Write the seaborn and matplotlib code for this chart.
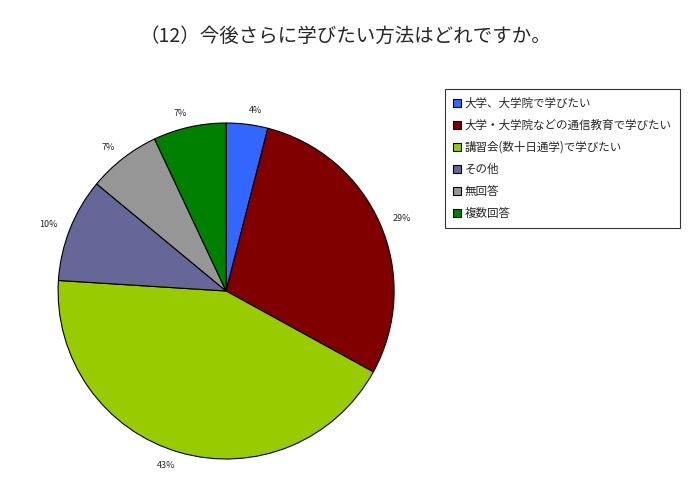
import matplotlib
matplotlib.use("Agg")
import matplotlib.pyplot as plt
import seaborn as sns

# Survey answers (clockwise from 12 o'clock)
categories = ["大学、大学院で学びたい", "大学・大学院などの通信教育で学びたい",
              "講習会(数十日通学)で学びたい", "その他", "無回答", "複数回答"]
shares = [4, 29, 43, 10, 7, 7]
colors = ["#3366FF", "#800000", "#99CC00", "#666699", "#969696", "#008000"]
title = "（12）今後さらに学びたい方法はどれですか。"

sns.set_style("white")
plt.rcParams["font.family"] = ["Noto Sans CJK JP", "DejaVu Sans"]

fig = plt.figure(figsize=(7, 5), dpi=100)
ax = fig.add_axes([0.323 - 0.24, 0.418 - 0.336, 0.48, 0.672])

wedges, texts = ax.pie(shares, colors=colors, startangle=90, counterclock=False,
                       labels=[f"{v}%" for v in shares], labeldistance=1.08,
                       wedgeprops={"edgecolor": "black", "linewidth": 0.8},
                       textprops={"fontsize": 6.5})
ax.set_aspect("equal")
ax.set_xlim(-1, 1)
ax.set_ylim(-1, 1)

fig.suptitle(title, x=0.494, y=0.948, fontsize=14)

leg = fig.legend(wedges, categories, loc="upper left", bbox_to_anchor=(0.627, 0.834),
                 fontsize=8.3, frameon=True, fancybox=False, edgecolor="black",
                 handlelength=0.75, handleheight=0.75, handletextpad=0.3,
                 labelspacing=0.78, borderpad=0.7)
leg.get_frame().set_linewidth(0.8)

fig.savefig("out.png", dpi=100)
plt.close(fig)
